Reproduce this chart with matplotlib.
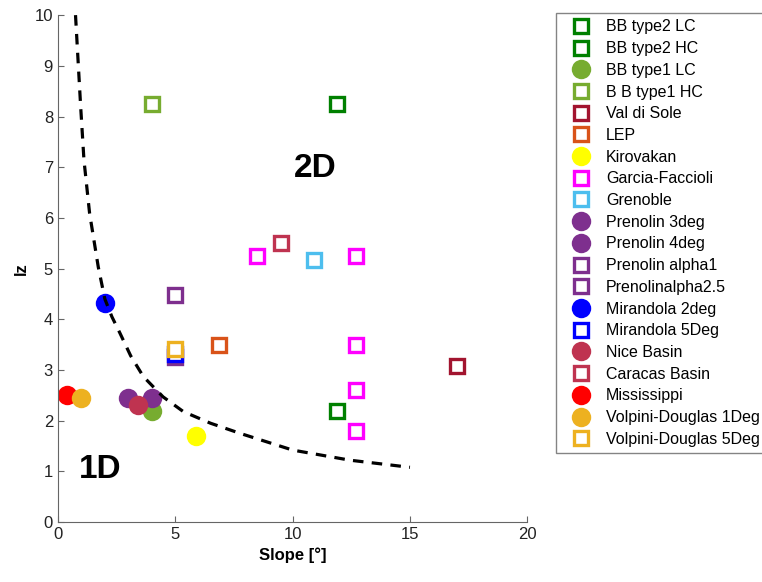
import matplotlib
matplotlib.use("Agg")
import matplotlib.pyplot as plt

plt.rcParams["font.family"] = ["Liberation Sans", "DejaVu Sans"]

# site name, marker, colour, slope values, lz values
labels = ["BB type2 LC", "BB type2 HC", "BB type1 LC", "B B type1 HC", "Val di Sole",
          "LEP", "Kirovakan", "Garcia-Faccioli", "Grenoble", "Prenolin 3deg",
          "Prenolin 4deg", "Prenolin alpha1", "Prenolinalpha2.5", "Mirandola 2deg",
          "Mirandola 5Deg", "Nice Basin", "Caracas Basin", "Mississippi",
          "Volpini-Douglas 1Deg", "Volpini-Douglas 5Deg"]
markers = ["s", "s", "o", "s", "s", "s", "o", "s", "s", "o",
           "o", "s", "s", "o", "s", "o", "s", "o", "o", "s"]
colors = ["#008000", "#008000", "#77AC30", "#77AC30", "#A2142F",
          "#D95319", "#FFFF00", "#FF00FF", "#4DBEEE", "#7E2F8E",
          "#7E2F8E", "#7E2F8E", "#7E2F8E", "#0000FF", "#0000FF",
          "#BF3350", "#BF3350", "#FF0000", "#EDB120", "#EDB120"]
slope = [[11.9], [11.9], [4.0], [4.0], [17.0],
         [6.85], [5.9], [8.5, 12.7, 12.7, 12.7, 12.7], [10.9], [3.0],
         [4.0], [5.0], [5.0], [2.0], [5.0],
         [3.4], [9.5], [0.4], [1.0], [5.0]]
lz = [[2.2], [8.25], [2.2], [8.25], [3.08],
      [3.5], [1.7], [5.25, 5.25, 3.5, 2.6, 1.8], [5.17], [2.45],
      [2.45], [4.47], [3.25], [4.33], [3.32],
      [2.3], [5.5], [2.5], [2.45], [3.42]]

# 1D / 2D boundary
curve_x = [0.75, 0.97, 1.11, 1.35, 1.72, 2.0, 2.3, 2.64, 3.1, 3.64, 4.48, 5.34, 6.5,
           7.76, 10.0, 12.45, 15.0]
curve_y = [10.0, 8.19, 7.14, 6.09, 5.03, 4.40, 4.05, 3.73, 3.28, 2.87, 2.47, 2.18, 1.95,
           1.75, 1.42, 1.22, 1.08]

fig = plt.figure(figsize=(7.62, 5.82), dpi=100)
ax = fig.add_axes([0.076, 0.103, 0.616, 0.871])

for lab, m, c, xs, ys in zip(labels, markers, colors, slope, lz):
    if m == "s":
        ax.plot(xs, ys, ls="none", marker="s", ms=10, mfc="white",
                mec=c, mew=2.4, label=lab)
    else:
        ax.plot(xs, ys, ls="none", marker="o", ms=14, mfc=c,
                mec=c, mew=0, label=lab)

ax.plot(curve_x, curve_y, color="black", lw=2.3, ls=(0, (3.3, 2.6)), zorder=5)

ax.text(10.96, 6.98, "2D", fontsize=24, fontweight="bold", ha="center", va="center")
ax.text(1.8, 1.03, "1D", fontsize=24, fontweight="bold", ha="center", va="center")

ax.set_xlim(0, 20)
ax.set_ylim(0, 10)
ax.set_xticks([0, 5, 10, 15, 20])
ax.set_yticks(range(0, 11))
ax.set_xlabel("Slope [°]", fontsize=12, fontweight="bold")
ax.set_ylabel("lz", fontsize=12, fontweight="bold")
ax.spines["top"].set_visible(False)
ax.spines["right"].set_visible(False)
for s in ["left", "bottom"]:
    ax.spines[s].set_color("#666666")
ax.tick_params(direction="in", length=4, labelsize=12, colors="#666666",
               labelcolor="#222222")

leg = ax.legend(loc="upper left", bbox_to_anchor=(556 / 762, 1 - 13 / 582),
                bbox_transform=fig.transFigure, fontsize=11.5, frameon=True,
                fancybox=False, edgecolor="#666666", labelspacing=0.42,
                handlelength=2.3, handletextpad=0.43, borderpad=0.4,
                borderaxespad=0, numpoints=1)
leg.get_frame().set_linewidth(1.0)

fig.savefig("out.png", dpi=100)
